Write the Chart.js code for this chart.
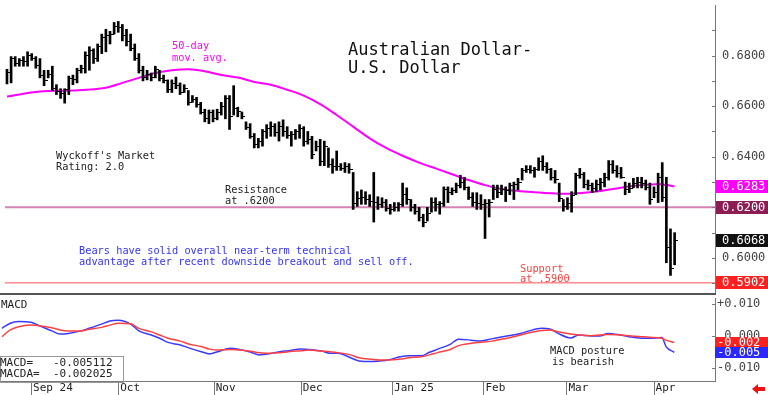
<!DOCTYPE html>
<html>
<head>
<script src="https://cdn.jsdelivr.net/npm/chart.js"></script>
<style>
  body { margin: 0; background: #fff; }
  #wrap { position: relative; width: 768px; height: 395px; overflow: hidden; }
  canvas { position: absolute; left: 0; }
  #price { top: 0; }
  #macd { top: 298px; }
</style>
</head>
<body>
<div id="wrap">
  <canvas id="price" width="768" height="298"></canvas>
  <canvas id="macd" width="768" height="97"></canvas>
</div>
<script>
// daily bars, one per trading day (index 0 = late Aug 2024, 162 = early Apr 2025)
var highs = [
  .6746, .6796, .6796, .6788, .6796, .6815, .6808, .6796, .6788, .6742,
  .6742, .6758, .6685, .6669, .6669, .6719, .6723, .6750, .6762, .6815,
  .6835, .6827, .6846, .6885, .6904, .6896, .6931, .6935, .6923, .6904,
  .6885, .6846, .6808, .6758, .6742, .6731, .6758, .6742, .6723, .6704,
  .6704, .6715, .6692, .6685, .6662, .6642, .6635, .6615, .6588, .6585,
  .6585, .6588, .6615, .6642, .6642, .6681, .6596, .6577, .6538, .6531,
  .6492, .6473, .6508, .6527, .6538, .6531, .6538, .6546, .6519, .6500,
  .6508, .6527, .6519, .6500, .6481, .6462, .6469, .6462, .6435, .6392,
  .6423, .6373, .6377, .6373, .6338, .6262, .6269, .6262, .6250, .6338,
  .6242, .6238, .6231, .6212, .6219, .6219, .6296, .6277, .6231, .6212,
  .6200, .6173, .6200, .6238, .6238, .6223, .6281, .6281, .6277, .6296,
  .6327, .6319, .6281, .6258, .6258, .6250, .6231, .6231, .6288, .6288,
  .6288, .6281, .6296, .6300, .6315, .6354, .6365, .6365, .6358, .6396,
  .6404, .6377, .6354, .6346, .6296, .6231, .6238, .6262, .6335, .6354,
  .6338, .6308, .6296, .6308, .6315, .6335, .6385, .6385, .6365, .6358,
  .6300, .6296, .6315, .6319, .6319, .6308, .6296, .6281, .6335, .6377,
  .6319, .6115, .6100
];
var lows = [
  .6688, .6692, .6758, .6758, .6758, .6758, .6781, .6750, .6712, .6681,
  .6712, .6662, .6646, .6631, .6612, .6646, .6685, .6692, .6731, .6731,
  .6742, .6769, .6777, .6808, .6815, .6846, .6885, .6892, .6858, .6838,
  .6819, .6781, .6731, .6700, .6704, .6700, .6712, .6700, .6692, .6654,
  .6654, .6669, .6646, .6654, .6604, .6615, .6596, .6569, .6538, .6531,
  .6538, .6546, .6565, .6550, .6508, .6565, .6558, .6550, .6508, .6473,
  .6435, .6435, .6442, .6473, .6481, .6481, .6462, .6481, .6473, .6442,
  .6469, .6473, .6442, .6450, .6392, .6423, .6365, .6365, .6358, .6335,
  .6346, .6346, .6338, .6335, .6192, .6204, .6212, .6212, .6204, .6142,
  .6192, .6200, .6185, .6173, .6185, .6185, .6204, .6212, .6185, .6173,
  .6146, .6123, .6146, .6181, .6185, .6173, .6204, .6219, .6250, .6258,
  .6277, .6269, .6231, .6204, .6192, .6192, .6077, .6162, .6231, .6238,
  .6250, .6223, .6250, .6231, .6269, .6308, .6338, .6335, .6319, .6346,
  .6346, .6335, .6308, .6296, .6223, .6185, .6192, .6181, .6250, .6315,
  .6277, .6269, .6258, .6262, .6269, .6281, .6308, .6335, .6319, .6315,
  .6250, .6258, .6277, .6277, .6277, .6269, .6212, .6238, .6219, .6223,
  .5981, .5931, .5973
];
var closes = [
  .6735, .6790, .6770, .6780, .6775, .6800, .6790, .6760, .6720, .6700,
  .6725, .6670, .6660, .6650, .6665, .6710, .6705, .6740, .6750, .6800,
  .6820, .6790, .6835, .6870, .6880, .6885, .6915, .6910, .6880, .6855,
  .6830, .6790, .6740, .6715, .6725, .6715, .6745, .6710, .6700, .6665,
  .6690, .6680, .6655, .6670, .6615, .6625, .6605, .6575, .6550, .6575,
  .6550, .6575, .6600, .6630, .6560, .6590, .6580, .6560, .6515, .6480,
  .6450, .6460, .6500, .6510, .6520, .6495, .6520, .6500, .6485, .6490,
  .6500, .6510, .6460, .6470, .6410, .6440, .6380, .6440, .6370, .6360,
  .6360, .6355, .6360, .6350, .6215, .6235, .6240, .6230, .6225, .6220,
  .6210, .6220, .6195, .6190, .6200, .6210, .6250, .6230, .6200, .6185,
  .6160, .6140, .6175, .6220, .6210, .6215, .6270, .6260, .6265, .6285,
  .6300, .6280, .6240, .6220, .6215, .6210, .6215, .6220, .6270, .6260,
  .6270, .6265, .6285, .6290, .6300, .6345, .6350, .6345, .6350, .6380,
  .6360, .6350, .6320, .6310, .6235, .6205, .6215, .6245, .6325, .6330,
  .6290, .6285, .6275, .6290, .6300, .6320, .6370, .6345, .6335, .6320,
  .6270, .6275, .6295, .6300, .6295, .6280, .6230, .6260, .6320, .6240,
  .6040, .5960, .6068
];

// 50-day moving average
var maIdx = [0, 8, 16, 24, 28, 32, 36, 40, 44, 48, 52, 56, 60, 64, 68, 72, 76, 80, 84, 88,
  92, 96, 100, 104, 108, 112, 116, 120, 124, 128, 132, 136, 140, 144, 148, 152, 156, 158, 160, 162];
var maVals = [.6638, .6658, .6662, .6673, .6692, .6712, .6731, .6742, .6746, .6738,
  .6723, .6713, .6696, .6685, .6665, .6642, .6608, .6565, .6519, .6473,
  .6435, .6404, .6377, .6354, .6331, .6308, .6288, .6273, .6265, .6260,
  .6256, .6254, .6258, .6265, .6275, .6285, .6290, .6292, .6288, .6283];

// MACD panel
var macdIdx = [0, 2, 4, 7, 9, 12, 14, 16, 19, 21, 24, 26, 28, 31, 33, 36, 38, 40, 43, 45,
  48, 50, 52, 55, 57, 60, 62, 65, 67, 69, 72, 74, 77, 79, 81, 84, 86, 89, 91, 93,
  96, 98, 101, 103, 105, 108, 110, 113, 115, 118, 120, 122, 125, 127, 130, 132, 134, 137, 139, 142,
  144, 146, 149, 151, 154, 156, 159, 160, 162];
var macdVals = [
  .0024, .0040, .0045, .0043, .0032, .0016, .0006, .0008, .0016, .0024,
  .0037, .0047, .0049, .0037, .0016, .0003, -.0007, -.0020, -.0028, -.0037,
  -.0049, -.0056, -.0049, -.0038, -.0041, -.0051, -.0059, -.0054, -.0049, -.0046,
  -.0041, -.0042, -.0047, -.0054, -.0054, -.0068, -.0078, -.0080, -.0078, -.0075,
  -.0065, -.0062, -.0062, -.0051, -.0041, -.0026, -.0010, -.0013, -.0016, -.0009,
  -.0004, .0001, .0008, .0016, .0024, .0022, .0008, -.0006, .0003, .0000,
  .0000, .0008, .0003, -.0002, -.0007, -.0007, -.0005, -.0033, -.0051
];
var signalVals = [
  -.0002, .0019, .0029, .0034, .0032, .0026, .0019, .0016, .0016, .0021,
  .0027, .0034, .0040, .0038, .0024, .0013, .0003, -.0007, -.0016, -.0025,
  -.0033, -.0041, -.0044, -.0042, -.0044, -.0048, -.0052, -.0054, -.0052, -.0049,
  -.0046, -.0044, -.0047, -.0049, -.0052, -.0059, -.0068, -.0073, -.0075, -.0075,
  -.0072, -.0068, -.0065, -.0059, -.0052, -.0042, -.0030, -.0023, -.0020, -.0016,
  -.0011, -.0006, .0003, .0010, .0017, .0019, .0013, .0006, .0003, .0001,
  .0003, .0005, .0003, .0001, -.0002, -.0004, -.0007, -.0013, -.0020
];
var macdLast = -0.005112;
var macdaLast = -0.002025;

var monthIdx = [7, 28, 51, 72, 94, 116, 136, 157];
var monthLabels = ['Sep 24', 'Oct', 'Nov', 'Dec', 'Jan 25', 'Feb', 'Mar', 'Apr'];
var priceTicks = [0.60, 0.62, 0.64, 0.66, 0.68];
var priceMinor = [0.59, 0.60, 0.61, 0.62, 0.63, 0.64, 0.65, 0.66, 0.67, 0.68, 0.69];
var macdTicks = [-0.01, 0, 0.01];
var resistance = 0.62;
var support = 0.5902;

var X_MIN = -0.48, X_MAX = 171.8;
var MONO = 'DejaVu Sans Mono';

Chart.defaults.font.family = MONO;
Chart.defaults.animation = false;
Chart.defaults.responsive = false;
Chart.defaults.events = [];
Chart.defaults.plugins.legend.display = false;
Chart.defaults.plugins.tooltip.enabled = false;

// little right-hand tick for the close of each bar
var closeTick = document.createElement('canvas');
closeTick.width = 7; closeTick.height = 1;
var tctx = closeTick.getContext('2d');
tctx.fillStyle = '#000';
tctx.fillRect(4, 0, 3, 1);

function pts(xs, ys) { return xs.map(function (x, k) { return { x: x, y: ys[k] }; }); }
function fixWidth(w) {
  return function (s) { s.width = w; s.paddingTop = 0; s.paddingBottom = 0; };
}
function txt(ctx, t, x, y, size, color) {
  ctx.font = size + 'px "' + MONO + '"';
  ctx.fillStyle = color;
  ctx.textAlign = 'left';
  ctx.textBaseline = 'middle';
  ctx.fillText(t, x, y);
}

var priceDecor = {
  id: 'priceDecor',
  afterDraw: function (chart) {
    var ctx = chart.ctx, a = chart.chartArea, y = chart.scales.y;
    ctx.save();
    ctx.strokeStyle = '#777';
    ctx.lineWidth = 1;
    priceMinor.forEach(function (v) {
      var py = Math.round(y.getPixelForValue(v)) + 0.5;
      ctx.beginPath(); ctx.moveTo(a.right - 3, py); ctx.lineTo(a.right, py); ctx.stroke();
    });
    ctx.fillStyle = '#555';
    ctx.fillRect(0, a.bottom, a.right + 1, 2);

    var boxes = [
      { v: maVals[maVals.length - 1], bg: '#ff00ff' },
      { v: resistance, bg: '#8c1c52' },
      { v: closes[closes.length - 1], bg: '#111' },
      { v: support, bg: '#ff2020' }
    ];
    boxes.forEach(function (b) {
      var py = y.getPixelForValue(b.v);
      ctx.fillStyle = b.bg;
      ctx.fillRect(a.right + 1, Math.round(py - 6.5), chart.width - a.right - 1, 13);
      txt(ctx, b.v.toFixed(4), a.right + 7, py + 0.5, 12, '#fff');
    });

    txt(ctx, 'Australian Dollar-', 348, 51, 17, '#111');
    txt(ctx, 'U.S. Dollar', 348, 69, 17, '#111');
    txt(ctx, '50-day', 172, 46, 10.3, '#ff00ff');
    txt(ctx, 'mov. avg.', 172, 58, 10.3, '#ff00ff');
    txt(ctx, "Wyckoff's Market", 56, 156, 10.3, '#222');
    txt(ctx, 'Rating: 2.0', 56, 167, 10.3, '#222');
    txt(ctx, 'Resistance', 225, 190, 10.3, '#222');
    txt(ctx, 'at .6200', 225, 201, 10.3, '#222');
    txt(ctx, 'Bears have solid overall near-term technical', 79, 251, 10.3, '#3333ff');
    txt(ctx, 'advantage after recent downside breakout and sell off.', 79, 262, 10.3, '#3333ff');
    txt(ctx, 'Support', 520, 269, 10.3, '#ff4040');
    txt(ctx, 'at .5900', 520, 279, 10.3, '#ff4040');
    ctx.restore();
  }
};

new Chart(document.getElementById('price'), {
  data: {
    datasets: [
      {
        type: 'bar',
        data: highs.map(function (h, i) { return { x: i, y: [lows[i], h] }; }),
        backgroundColor: '#000',
        barThickness: 2,
        order: 1
      },
      {
        type: 'line',
        data: pts(closes.map(function (c, i) { return i; }), closes),
        showLine: false,
        pointStyle: closeTick,
        pointRadius: 3,
        order: 0
      },
      {
        type: 'line',
        data: pts(maIdx, maVals),
        borderColor: '#ff00ff',
        borderWidth: 2,
        pointRadius: 0,
        cubicInterpolationMode: 'monotone',
        order: 2
      },
      {
        type: 'line',
        data: pts([X_MIN, X_MAX], [resistance, resistance]),
        borderColor: '#d682b4',
        borderWidth: 2,
        pointRadius: 0,
        order: 3
      },
      {
        type: 'line',
        data: pts([X_MIN, X_MAX], [support, support]),
        borderColor: '#ff8c8c',
        borderWidth: 1.5,
        pointRadius: 0,
        order: 3
      }
    ]
  },
  options: {
    layout: { padding: { top: 0, bottom: 2, left: 0, right: 0 } },
    scales: {
      x: { type: 'linear', min: X_MIN, max: X_MAX, offset: false, display: false },
      y: {
        position: 'right',
        min: 0.58615, max: 0.70,
        afterFit: fixWidth(53),
        afterBuildTicks: function (s) { s.ticks = priceTicks.map(function (v) { return { value: v }; }); },
        ticks: {
          callback: function (v) { return v.toFixed(4); },
          font: { size: 12 }, color: '#444', padding: 7
        },
        grid: { display: false, drawTicks: false },
        border: { display: true, color: '#777' }
      }
    }
  },
  plugins: [priceDecor]
});

var macdDecor = {
  id: 'macdDecor',
  afterDraw: function (chart) {
    var ctx = chart.ctx, a = chart.chartArea, x = chart.scales.x, y = chart.scales.y;
    ctx.save();
    ctx.strokeStyle = '#777';
    ctx.lineWidth = 1;
    monthIdx.forEach(function (m) {
      var px = Math.round(x.getPixelForValue(m)) + 0.5;
      ctx.beginPath(); ctx.moveTo(px, a.bottom); ctx.lineTo(px, chart.height); ctx.stroke();
    });
    macdTicks.forEach(function (v) {
      var py = Math.round(y.getPixelForValue(v)) + 0.5;
      ctx.beginPath(); ctx.moveTo(a.right - 3, py); ctx.lineTo(a.right, py); ctx.stroke();
    });

    [{ v: macdaLast, bg: '#ff2020' }, { v: macdLast, bg: '#2a2aff' }].forEach(function (b) {
      var py = y.getPixelForValue(b.v);
      ctx.fillStyle = b.bg;
      ctx.fillRect(a.right, Math.round(py - 5.5), chart.width - a.right, 11);
      txt(ctx, b.v.toFixed(3), a.right + 2, py + 0.5, 12, '#fff');
    });

    txt(ctx, 'MACD', 1, 7, 11, '#222');
    ctx.strokeStyle = '#999';
    ctx.strokeRect(0.5, 58.5, 123, 26);
    ctx.fillStyle = '#fff';
    ctx.fillRect(1, 59, 122, 24);
    txt(ctx, 'MACD=   ' + macdLast.toFixed(6), 0, 65, 11, '#222');
    txt(ctx, 'MACDA=  ' + macdaLast.toFixed(6), 0, 76, 11, '#222');
    txt(ctx, 'MACD posture', 550, 53, 10.3, '#222');
    txt(ctx, 'is bearish', 552, 64, 10.3, '#222');

    // red "back" arrow in the bottom-right corner
    ctx.fillStyle = '#ee1111';
    ctx.beginPath();
    ctx.moveTo(752, 91);
    ctx.lineTo(758, 86);
    ctx.lineTo(758, 89);
    ctx.lineTo(765, 89);
    ctx.lineTo(765, 93);
    ctx.lineTo(758, 93);
    ctx.lineTo(758, 96);
    ctx.closePath();
    ctx.fill();
    ctx.restore();
  }
};

new Chart(document.getElementById('macd'), {
  type: 'line',
  data: {
    datasets: [
      {
        data: pts(macdIdx, signalVals),
        borderColor: '#ff4040',
        borderWidth: 1.5,
        pointRadius: 0,
        cubicInterpolationMode: 'monotone'
      },
      {
        data: pts(macdIdx, macdVals),
        borderColor: '#3a3aff',
        borderWidth: 1.5,
        pointRadius: 0,
        cubicInterpolationMode: 'monotone'
      }
    ]
  },
  options: {
    layout: { padding: 0 },
    scales: {
      x: {
        type: 'linear', min: X_MIN, max: X_MAX, offset: false,
        afterFit: function (s) { s.height = 14; s.paddingLeft = 0; s.paddingRight = 0; },
        afterBuildTicks: function (s) { s.ticks = monthIdx.map(function (v) { return { value: v }; }); },
        ticks: {
          callback: function (v, i) { return monthLabels[i]; },
          align: 'start', labelOffset: 2, padding: 1,
          autoSkip: false, maxRotation: 0, minRotation: 0,
          font: { size: 11 }, color: '#222'
        },
        grid: { display: false, drawTicks: false },
        border: { display: true, color: '#777' }
      },
      y: {
        position: 'right',
        min: -0.0140625, max: 0.011875,
        afterFit: fixWidth(53),
        afterBuildTicks: function (s) { s.ticks = macdTicks.map(function (v) { return { value: v }; }); },
        ticks: {
          callback: function (v) { return v > 0 ? '+' + v.toFixed(3) : (v < 0 ? v.toFixed(3) : ' 0.000'); },
          font: { size: 12 }, color: '#444', padding: 2
        },
        grid: { display: false, drawTicks: false },
        border: { display: true, color: '#777' }
      }
    }
  },
  plugins: [macdDecor]
});
</script>
</body>
</html>
